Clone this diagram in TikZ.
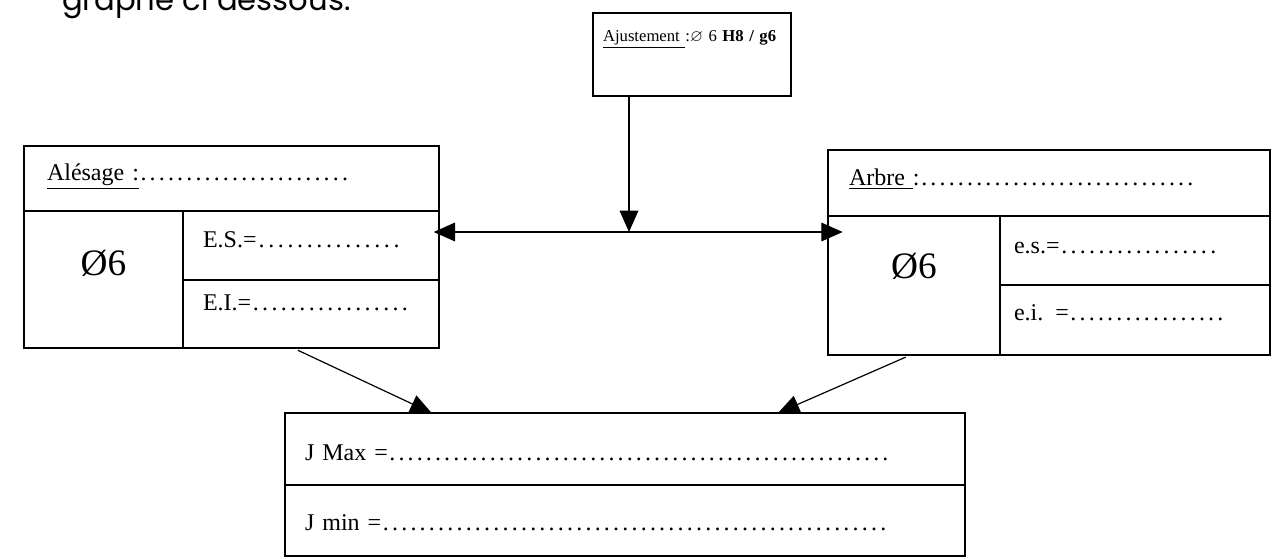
\documentclass[tikz,border=0pt]{standalone}
\usepackage{amssymb}
\usepackage{fontspec}
\setmainfont{Liberation Serif}
\newfontfamily\gothique{Poppins}
\usetikzlibrary{arrows.meta,positioning,calc}

% ligne a remplir : texte puis pointilles jusqu'a une largeur fixe
\newcommand{\pointilles}[2]{\hbox to #1{#2\xleaders\hbox to 0.38em{\hss.\hss}\hfill}}

\begin{document}
\begin{tikzpicture}[x=0.75pt,y=0.75pt,yscale=-1,xscale=1,
  cell/.style={draw, line width=0.9pt, anchor=north west, outer sep=0pt, inner ysep=0pt, align=left, font=\fontsize{18}{21}\selectfont},
  diam/.style={cell, align=center, inner xsep=0pt, font=\fontsize{28}{31}\selectfont},
  fleche/.style={line width=0.9pt, -{Triangle[length=16pt,width=14pt]}}]
\clip (0,0) rectangle (1281,558);

% Text Node (haut de page)
\node[anchor=base west, inner sep=0pt, font=\gothique\fontsize{23}{27}\selectfont] (consigne) at (62,10) {graphe ci dessous.};

% Ajustement
\node[cell, inner xsep=7.5pt, text width=133.5pt, text height=21pt, text depth=41.25pt, font=\fontsize{12.5}{15}\selectfont] (ajust) at (593,13) {\mbox{\underline{Ajustement }:$\varnothing$ 6 \textbf{H8 / g6}}};

% Alesage
\node[cell, inner xsep=17.25pt, text width=276.75pt, text height=25.5pt, text depth=23.25pt] (atitre) at (24,146) {\pointilles{227pt}{\underline{Alésage :}}};
\node[diam, text width=119.25pt, text height=48pt, text depth=54.75pt] (adiam) at (atitre.south west) {Ø6};
\node[cell, inner xsep=15pt, text width=162pt, text height=27pt, text depth=24.75pt] (aes) at (adiam.north east) {\pointilles{149pt}{E.S.=}};
\node[cell, inner xsep=15pt, text width=162pt, text height=22.5pt, text depth=28.5pt] (aei) at (aes.south west) {\pointilles{155pt}{E.I.=}};

% Arbre
\node[cell, inner xsep=15.75pt, text width=300pt, text height=26.25pt, text depth=23.25pt] (btitre) at (828,150) {\pointilles{259.5pt}{\underline{Arbre }:}};
\node[diam, text width=129pt, text height=46.5pt, text depth=57.75pt] (bdiam) at (btitre.south west) {Ø6};
\node[cell, inner xsep=10.5pt, text width=181.5pt, text height=27.75pt, text depth=24pt] (bes) at (bdiam.north east) {\pointilles{153pt}{e.s.=}};
\node[cell, inner xsep=10.5pt, text width=181.5pt, text height=26.25pt, text depth=26.25pt] (bei) at (bes.south west) {\pointilles{158.25pt}{e.i. =}};

% Jeux
\node[cell, inner xsep=15pt, text width=480pt, text height=35.25pt, text depth=18.75pt] (jmax) at (285,413) {\pointilles{438.75pt}{J Max =}};
\node[cell, inner xsep=15pt, text width=480pt, text height=33.75pt, text depth=19.5pt] (jmin) at (jmax.south west) {\pointilles{437.25pt}{J min =}};

% Fleches
\coordinate (j) at (629,232);
\draw[fleche] (ajust.south west -| j) -- (j);
\draw[fleche, shorten >=-4pt] (j) -- (aes.east |- j);
\draw[fleche, shorten >=-11pt] (j) -- (bdiam.west |- j);
\draw[fleche, shorten <=4pt] ($(aei.south west)!0.43!(aei.south east)$) -- ([xshift=110pt]jmax.north west);
\draw[fleche, shorten <=4pt] ($(bdiam.south west)!0.48!(bdiam.south east)$) -- ([xshift=369.75pt]jmax.north west);

\end{tikzpicture}
\end{document}
